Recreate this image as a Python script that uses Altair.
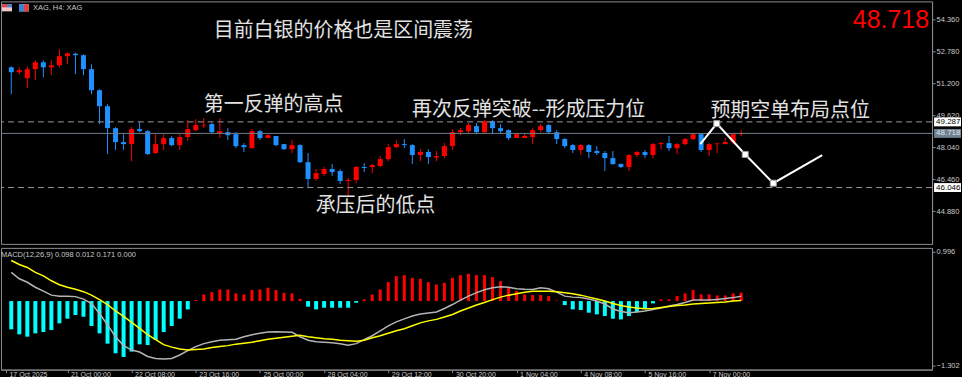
import altair as alt
import pandas as pd

# ---------------- data (XAG, H4) ----------------
opens = [51.98, 51.74, 51.44, 51.89, 52.23, 51.98, 52.08, 52.53, 52.65, 52.58,
         51.89, 50.85, 50.06, 48.98, 48.29, 48.19, 48.93, 48.83, 47.75, 48.19,
         48.49, 48.14, 48.54, 48.88, 49.11, 49.18, 48.73, 48.78, 48.68, 48.14,
         47.99, 48.83, 48.49, 48.59, 48.19, 47.94, 48.14, 47.30, 46.47, 46.71,
         46.96, 46.86, 46.37, 46.42, 47.06, 47.06, 47.11, 47.45, 48.04, 48.19,
         48.14, 47.65, 47.80, 47.53, 47.60, 48.09, 48.78, 48.83, 49.08, 48.78,
         49.32, 48.98, 48.88, 48.49, 48.49, 48.54, 48.88, 49.13, 48.78, 48.44,
         48.14, 47.90, 48.14, 47.85, 47.75, 47.50, 47.21, 47.06, 47.65, 47.80,
         47.65, 48.19, 48.24, 47.99, 48.19, 48.44, 48.68, 47.90, 48.19, 48.19,
         48.29, 48.68]
highs = [52.03, 51.98, 52.03, 52.33, 52.33, 52.33, 52.87, 52.72, 52.70, 52.62,
         52.13, 50.90, 50.16, 49.03, 48.68, 49.03, 49.27, 48.88, 48.68, 48.68,
         48.59, 48.68, 49.37, 49.42, 49.47, 49.23, 49.47, 48.98, 48.78, 48.24,
         48.93, 48.88, 48.68, 48.59, 48.19, 48.39, 48.19, 47.75, 46.96, 47.06,
         47.21, 46.96, 46.52, 47.11, 47.25, 47.21, 47.60, 48.19, 48.39, 48.44,
         48.19, 47.94, 47.94, 47.85, 48.24, 48.93, 48.98, 49.23, 49.23, 49.37,
         49.37, 49.18, 48.93, 48.73, 48.73, 48.98, 49.18, 49.18, 48.88, 48.49,
         48.19, 48.19, 48.19, 48.09, 47.85, 47.85, 47.23, 47.70, 47.85, 47.90,
         48.24, 48.29, 48.59, 48.24, 48.49, 48.73, 48.73, 48.24, 48.24, 48.49,
         48.73, 48.88]
lows = [50.65, 51.64, 50.95, 51.34, 51.49, 51.59, 51.98, 52.13, 51.64, 51.59,
        50.65, 49.18, 47.70, 47.90, 47.90, 47.35, 48.78, 47.65, 47.70, 47.90,
        48.09, 47.90, 48.34, 48.83, 48.98, 48.73, 48.49, 48.39, 47.99, 47.80,
        47.99, 48.39, 48.49, 48.09, 47.90, 47.75, 47.25, 46.05, 46.37, 46.62,
        46.62, 46.22, 45.55, 46.27, 46.81, 46.76, 47.06, 47.35, 47.99, 47.99,
        47.21, 47.35, 47.21, 47.35, 47.50, 47.90, 48.63, 48.73, 48.68, 48.68,
        48.68, 48.68, 48.39, 48.49, 48.49, 48.19, 48.78, 48.68, 48.19, 47.99,
        47.75, 47.65, 47.50, 47.65, 46.86, 47.16, 47.01, 46.86, 47.55, 47.50,
        47.50, 47.94, 47.85, 47.70, 48.14, 48.39, 47.80, 47.60, 47.75, 48.19,
        48.19, 48.59]
closes = [51.74, 51.84, 51.89, 52.23, 51.98, 52.08, 52.53, 52.67, 52.58, 51.89,
          50.85, 50.06, 48.98, 48.29, 48.19, 48.93, 48.83, 47.70, 48.19, 48.49,
          48.14, 48.54, 48.93, 49.13, 49.14, 48.78, 48.83, 48.63, 48.09, 48.04,
          48.83, 48.49, 48.63, 48.14, 47.94, 48.14, 47.30, 46.47, 46.76, 46.96,
          46.81, 46.37, 46.42, 47.06, 47.01, 47.16, 47.45, 48.04, 48.19, 48.14,
          47.65, 47.80, 47.55, 47.60, 48.09, 48.78, 48.88, 49.13, 48.78, 49.32,
          48.98, 48.83, 48.49, 48.68, 48.59, 48.88, 49.08, 48.78, 48.44, 48.09,
          47.90, 48.14, 47.80, 47.75, 47.50, 47.21, 47.06, 47.65, 47.80, 47.65,
          48.19, 48.24, 47.99, 48.19, 48.44, 48.68, 47.90, 48.19, 48.22, 48.29,
          48.68, 48.718]

macd_hist = [-0.571, -0.672, -0.719, -0.652, -0.625, -0.585, -0.450, -0.356, -0.282, -0.316,
             -0.504, -0.652, -0.860, -1.055, -1.129, -1.021, -0.874, -0.887, -0.786, -0.625,
             -0.504, -0.356, -0.168, 0.020, 0.134, 0.181, 0.235, 0.235, 0.155, 0.134,
             0.222, 0.235, 0.269, 0.222, 0.168, 0.155, 0.047, -0.114, -0.168, -0.134,
             -0.134, -0.134, -0.134, -0.034, 0.034, 0.134, 0.235, 0.383, 0.504, 0.524,
             0.470, 0.450, 0.383, 0.336, 0.370, 0.470, 0.524, 0.551, 0.524, 0.524,
             0.484, 0.403, 0.282, 0.202, 0.134, 0.121, 0.121, 0.101, 0.010, -0.081,
             -0.168, -0.181, -0.235, -0.269, -0.302, -0.356, -0.370, -0.302, -0.222, -0.155,
             -0.047, 0.034, 0.034, 0.101, 0.155, 0.222, 0.134, 0.134, 0.114, 0.114,
             0.155, 0.171]
macd_main = [0.58, 0.45, 0.38, 0.28, 0.20, 0.12, 0.10, 0.10, 0.09, 0.04,
             -0.05, -0.25, -0.48, -0.72, -0.90, -0.99, -1.03, -1.12, -1.16, -1.17,
             -1.16, -1.09, -1.00, -0.92, -0.86, -0.82, -0.79, -0.78, -0.77, -0.72,
             -0.68, -0.65, -0.625, -0.62, -0.625, -0.63, -0.72, -0.79, -0.82, -0.83,
             -0.84, -0.86, -0.89, -0.86, -0.78, -0.70, -0.60, -0.50, -0.42, -0.36,
             -0.30, -0.26, -0.24, -0.22, -0.15, -0.07, 0.02, 0.10, 0.17, 0.23,
             0.27, 0.29, 0.28, 0.25, 0.24, 0.235, 0.27, 0.25, 0.18, 0.10,
             0.08, 0.07, 0.04, 0.00, -0.06, -0.16, -0.21, -0.235, -0.22, -0.20,
             -0.17, -0.14, -0.10, -0.07, -0.03, 0.02, 0.02, 0.02, 0.034, 0.05,
             0.07, 0.098]
macd_signal = [0.82, 0.74, 0.68, 0.58, 0.51, 0.41, 0.33, 0.28, 0.24, 0.19,
               0.12, 0.03, -0.07, -0.20, -0.31, -0.43, -0.55, -0.68, -0.78, -0.88,
               -0.93, -0.97, -0.99, -0.98, -0.97, -0.94, -0.92, -0.90, -0.87, -0.85,
               -0.83, -0.80, -0.77, -0.75, -0.73, -0.71, -0.69, -0.72, -0.74, -0.76,
               -0.77, -0.79, -0.80, -0.81, -0.79, -0.74, -0.70, -0.65, -0.60, -0.56,
               -0.50, -0.44, -0.40, -0.37, -0.32, -0.27, -0.20, -0.14, -0.08, -0.03,
               0.03, 0.08, 0.12, 0.15, 0.18, 0.20, 0.20, 0.20, 0.19, 0.17,
               0.15, 0.12, 0.08, 0.04, 0.00, -0.05, -0.09, -0.12, -0.14, -0.155,
               -0.15, -0.13, -0.11, -0.09, -0.08, -0.06, -0.05, -0.04, -0.03, -0.02,
               0.00, 0.012]

# projected path (white zig-zag)
proj_i = [85.9, 87.95, 91.5, 95.0, 101.1]
proj_p = [48.19, 49.20, 47.68, 46.26, 47.65]
proj_marker = [False, True, True, True, False]

# horizontal levels
level_values = [49.287, 46.046]
current_price = 48.718

# annotations
ann_text = ["目前白银的价格也是区间震荡", "第一反弹的高点", "再次反弹突破--形成压力位",
            "预期空单布局点位", "承压后的低点"]
ann_i = [41.4, 32.7, 64.5, 97.1, 45.4]
ann_p = [53.78, 50.11, 49.87, 49.84, 45.14]

price_ticks = [44.88, 46.46, 48.04, 49.62, 51.20, 52.78, 54.36]
macd_ticks = [0.996, -1.302]
date_ticks = [-0.66, 7, 15, 23, 31, 39, 47, 55, 63, 71, 79, 87]
date_labels = ["17 Oct 2025", "21 Oct 00:00", "22 Oct 08:00", "23 Oct 16:00", "25 Oct 00:00",
               "28 Oct 04:00", "29 Oct 12:00", "30 Oct 20:00", "1 Nov 04:00", "4 Nov 08:00",
               "5 Nov 16:00", "7 Nov 00:00"]
macd_title = "MACD(12,26,9) 0.098 0.012 0.171 0.000"
symbol_title = "XAG, H4:  XAG"

# toolbar icons (decoration): pixel boxes and colours
icon_x = [1, 1, 6, 18, 18, 23]
icon_x2 = [11, 6, 11, 28, 23, 28]
icon_y = [3, 3, 3, 3, 3, 3]
icon_y2 = [10, 6, 6, 10, 10, 10]
icon_c = ["#f0c8c8", "#e04848", "#4a7fd0", "#f0f0f0", "#3b82d6", "#e04040"]

# ---------------- frames ----------------
n = len(opens)
idx = list(range(n))
candles = pd.DataFrame({"i": idx, "open": opens, "high": highs, "low": lows, "close": closes})
macd_df = pd.DataFrame({"i": idx, "hist": macd_hist, "main": macd_main, "signal": macd_signal})
proj_df = pd.DataFrame({"i": proj_i, "p": proj_p, "m": proj_marker})
levels_df = pd.DataFrame({"level": level_values, "label": [f"{v:.3f}" for v in level_values]})
cur_df = pd.DataFrame({"level": [current_price], "label": [f"{current_price:.3f}"]})
ann_df = pd.DataFrame({"i": ann_i, "p": ann_p, "t": ann_text})
icon_df = pd.DataFrame({"x": icon_x, "x2": icon_x2, "y": icon_y, "y2": icon_y2, "c": icon_c})

W = 933
H_PRICE = 243
H_MACD = 122
GRAY = "#8c8c8c"
LABEL = "#c8c8c8"
FONT = "Liberation Sans"
CJK = "Noto Sans CJK SC"

xs = alt.Scale(domain=[-0.66, 114.17], nice=False, zero=False)
ps = alt.Scale(domain=[43.265, 55.235], nice=False, zero=False)
ms = alt.Scale(domain=[-1.385, 1.075], nice=False, zero=False)

price_axis = alt.Axis(orient="right", values=price_ticks, format=".3f", title=None,
                      tickSize=3, labelPadding=1, grid=False)
macd_axis = alt.Axis(orient="right", values=macd_ticks, format=".3f", title=None,
                     tickSize=3, labelPadding=1, grid=False)

label_expr = ("[" + ",".join(f"'{s}'" for s in date_labels) + "][indexof(["
              + ",".join(str(v) for v in date_ticks) + "], datum.value)]")
date_axis = alt.Axis(orient="bottom", values=date_ticks, labelExpr=label_expr, title=None,
                     tickSize=3, labelAlign="left", labelOffset=3, labelPadding=-2,
                     labelFontSize=7, labelBaseline="top", labelFlush=False,
                     labelOverlap=False, grid=False)


def PY(field):
    return alt.Y(field, scale=ps, axis=price_axis)


def MY(field):
    return alt.Y(field, scale=ms, axis=macd_axis)


Xp = alt.X("i:Q", scale=xs, axis=None)
Xm = alt.X("i:Q", scale=xs, axis=date_axis)

dircol = alt.Color("dir:N", scale=alt.Scale(domain=["up", "down"], range=["#ff0000", "#1e90ff"]),
                   legend=None)
base_c = alt.Chart(candles).transform_calculate(
    dir="datum.close >= datum.open ? 'up' : 'down'")

wicks = base_c.mark_rule(strokeWidth=1).encode(
    x=Xp, y=PY("low:Q"), y2="high:Q", color=dircol)
bodies = base_c.mark_bar(size=5).encode(
    x=Xp, y=PY("open:Q"), y2="close:Q", color=dircol)

level_rules = alt.Chart(levels_df).mark_rule(color="#9a9a9a", strokeDash=[6, 4], strokeWidth=1).encode(
    y=PY("level:Q"))
cur_rule = alt.Chart(cur_df).mark_rule(color="#6f7c8a", strokeWidth=1).encode(
    y=PY("level:Q"))

proj_line = alt.Chart(proj_df).mark_line(color="white", strokeWidth=2).encode(
    x=Xp, y=PY("p:Q"))
proj_pts = alt.Chart(proj_df).transform_filter("datum.m").mark_square(
    size=36, color="white", fill="white", stroke="#9a9a9a", strokeWidth=1, opacity=1).encode(
    x=Xp, y=PY("p:Q"))

ann = alt.Chart(ann_df).mark_text(font=CJK, fontSize=20, color="#e2e2e2",
                                  align="center", baseline="middle").encode(
    x=Xp, y=PY("p:Q"), text="t:N")

# right-side price tags
tag_boxes = alt.Chart(levels_df).transform_calculate(
    top="datum.level + 0.22", bot="datum.level - 0.22").mark_rect(color="white").encode(
    x=alt.value(935), x2=alt.value(962), y=PY("top:Q"), y2="bot:Q")
tag_text = alt.Chart(levels_df).mark_text(font=FONT, fontSize=8, color="black",
                                          align="left", baseline="middle").encode(
    x=alt.value(937), y=PY("level:Q"), text="label:N")
cur_box = alt.Chart(cur_df).transform_calculate(
    top="datum.level + 0.22", bot="datum.level - 0.22").mark_rect(color="#6f8091").encode(
    x=alt.value(935), x2=alt.value(962), y=PY("top:Q"), y2="bot:Q")
cur_text = alt.Chart(cur_df).mark_text(font=FONT, fontSize=8, color="#dfe6ee",
                                       align="left", baseline="middle").encode(
    x=alt.value(937), y=PY("level:Q"), text="label:N")

big_price = alt.Chart(cur_df).mark_text(font=FONT, fontSize=25, color="#ff0000",
                                        align="right", baseline="alphabetic").encode(
    x=alt.value(930), y=alt.value(27), text="label:N")
sym = alt.Chart(pd.DataFrame({"t": [symbol_title]})).mark_text(
    font=FONT, fontSize=7.5, color=LABEL, align="left", baseline="middle").encode(
    x=alt.value(32), y=alt.value(7), text="t:N")
icons = alt.Chart(icon_df).mark_rect().encode(
    x=alt.X("x:Q", scale=None, axis=None), x2="x2:Q",
    y=alt.Y("y:Q", scale=None, axis=None), y2="y2:Q",
    color=alt.Color("c:N", scale=None, legend=None))

price_main = alt.layer(
    wicks, bodies, level_rules, cur_rule, proj_line, proj_pts, ann,
    tag_boxes, tag_text, cur_box, cur_text, big_price, sym
)
price_panel = alt.layer(price_main, icons).resolve_scale(
    x="independent", y="independent", color="independent"
).properties(width=W, height=H_PRICE)

# ---------------- MACD panel ----------------
hist_neg = alt.Chart(macd_df).transform_filter("datum.hist < 0").mark_bar(size=4, color="#00ffff").encode(
    x=Xm, y=MY("hist:Q"), y2=alt.datum(0))
hist_pos = alt.Chart(macd_df).transform_filter("datum.hist >= 0").mark_bar(size=3, color="#ff0000").encode(
    x=Xm, y=MY("hist:Q"), y2=alt.datum(0))
main_line = alt.Chart(macd_df).mark_line(color="#b4b4b4", strokeWidth=1.5).encode(
    x=Xm, y=MY("main:Q"))
sig_line = alt.Chart(macd_df).mark_line(color="#ffff00", strokeWidth=1.5).encode(
    x=Xm, y=MY("signal:Q"))
macd_lbl = alt.Chart(pd.DataFrame({"t": [macd_title]})).mark_text(
    font=FONT, fontSize=7.5, color=LABEL, align="left", baseline="middle").encode(
    x=alt.value(0), y=alt.value(7), text="t:N")

macd_panel = alt.layer(hist_neg, hist_pos, main_line, sig_line, macd_lbl).properties(
    width=W, height=H_MACD)

chart = alt.vconcat(price_panel, macd_panel, spacing=2).properties(
    background="black", padding=0
).configure_view(stroke="#8c8c8c", strokeWidth=1).configure_axis(
    domainColor=GRAY, tickColor=GRAY, labelColor=LABEL, labelFont=FONT, labelFontSize=7.5
)

chart.save("out.html", embed_options={"renderer": "svg", "actions": False})
